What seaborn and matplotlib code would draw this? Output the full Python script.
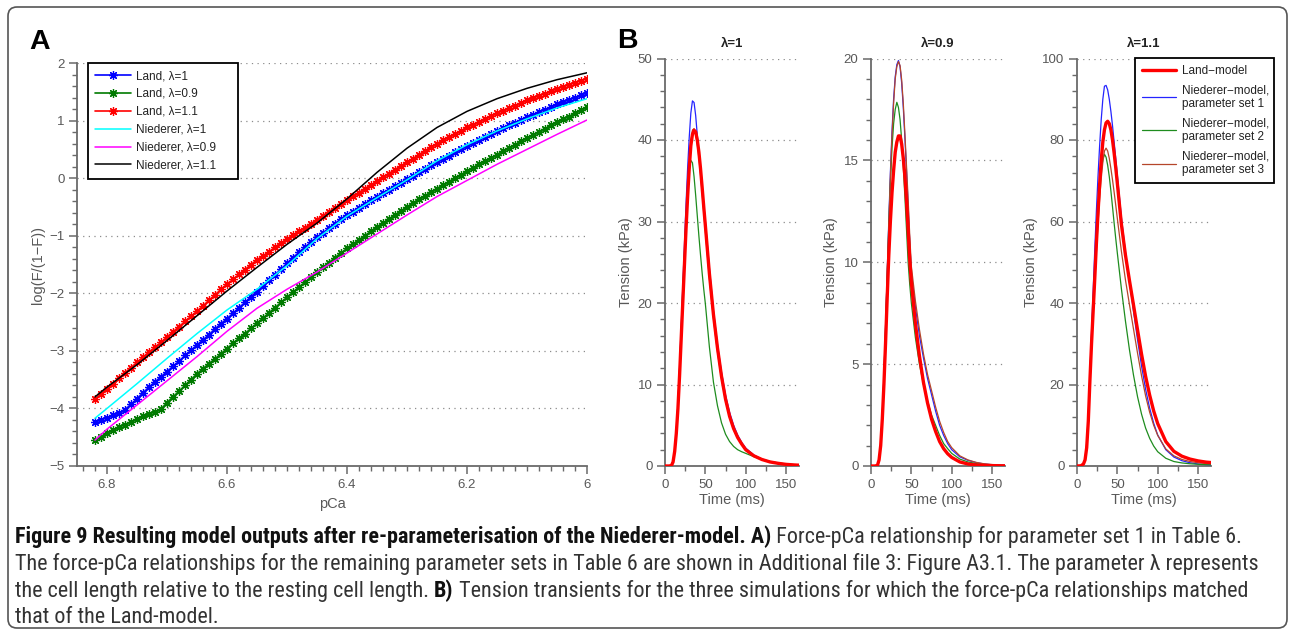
import os
import numpy as np
import pandas as pd
import matplotlib
matplotlib.use("Agg")
import matplotlib.pyplot as plt
import seaborn as sns
from matplotlib import font_manager as fm
from matplotlib.ticker import MultipleLocator, FixedLocator
from matplotlib.patches import FancyBboxPatch
from matplotlib.transforms import IdentityTransform

# ---------------- data: panel A (force-pCa) ----------------
pca_land = [6.82, 6.81, 6.80, 6.79, 6.78, 6.77, 6.76, 6.75, 6.74, 6.73,
            6.72, 6.71, 6.70, 6.69, 6.68, 6.67, 6.66, 6.65, 6.64, 6.63,
            6.62, 6.61, 6.60, 6.59, 6.58, 6.57, 6.56, 6.55, 6.54, 6.53,
            6.52, 6.51, 6.50, 6.49, 6.48, 6.47, 6.46, 6.45, 6.44, 6.43,
            6.42, 6.41, 6.40, 6.39, 6.38, 6.37, 6.36, 6.35, 6.34, 6.33,
            6.32, 6.31, 6.30, 6.29, 6.28, 6.27, 6.26, 6.25, 6.24, 6.23,
            6.22, 6.21, 6.20, 6.19, 6.18, 6.17, 6.16, 6.15, 6.14, 6.13,
            6.12, 6.11, 6.10, 6.09, 6.08, 6.07, 6.06, 6.05, 6.04, 6.03,
            6.02, 6.01, 6.00]
land_l1 = [-4.24, -4.20, -4.16, -4.12, -4.08, -4.02, -3.93, -3.83, -3.73, -3.63,
           -3.54, -3.45, -3.36, -3.27, -3.18, -3.08, -2.99, -2.90, -2.81, -2.72,
           -2.62, -2.53, -2.44, -2.35, -2.25, -2.16, -2.06, -1.97, -1.87, -1.77,
           -1.68, -1.58, -1.48, -1.38, -1.29, -1.20, -1.11, -1.03, -0.95, -0.87,
           -0.79, -0.71, -0.64, -0.58, -0.51, -0.45, -0.38, -0.32, -0.26, -0.20,
           -0.14, -0.08, -0.02, 0.04, 0.10, 0.16, 0.22, 0.28, 0.34, 0.39,
           0.45, 0.50, 0.56, 0.61, 0.66, 0.72, 0.77, 0.82, 0.87, 0.92,
           0.96, 1.01, 1.06, 1.10, 1.15, 1.19, 1.24, 1.28, 1.32, 1.36,
           1.40, 1.44, 1.48]
land_l09 = [-4.55, -4.49, -4.43, -4.38, -4.33, -4.28, -4.23, -4.18, -4.14, -4.10,
            -4.06, -4.01, -3.90, -3.80, -3.70, -3.60, -3.50, -3.40, -3.31, -3.22,
            -3.14, -3.05, -2.96, -2.87, -2.78, -2.70, -2.61, -2.52, -2.43, -2.34,
            -2.25, -2.16, -2.07, -1.98, -1.89, -1.81, -1.72, -1.63, -1.55, -1.47,
            -1.38, -1.30, -1.22, -1.15, -1.07, -1.00, -0.92, -0.85, -0.78, -0.71,
            -0.64, -0.57, -0.50, -0.44, -0.37, -0.31, -0.24, -0.18, -0.12, -0.06,
            0.00, 0.06, 0.12, 0.18, 0.24, 0.29, 0.35, 0.41, 0.47, 0.53,
            0.58, 0.64, 0.70, 0.75, 0.81, 0.86, 0.92, 0.97, 1.02, 1.07,
            1.13, 1.18, 1.23]
land_l11 = [-3.84, -3.75, -3.66, -3.57, -3.47, -3.38, -3.29, -3.20, -3.11, -3.02,
            -2.94, -2.85, -2.76, -2.67, -2.58, -2.49, -2.40, -2.31, -2.22, -2.12,
            -2.03, -1.93, -1.84, -1.76, -1.67, -1.59, -1.50, -1.42, -1.35, -1.28,
            -1.20, -1.13, -1.06, -0.99, -0.92, -0.86, -0.79, -0.72, -0.65, -0.58,
            -0.52, -0.45, -0.38, -0.31, -0.25, -0.18, -0.12, -0.05, 0.02, 0.08,
            0.15, 0.21, 0.28, 0.34, 0.41, 0.47, 0.54, 0.60, 0.66, 0.71,
            0.77, 0.82, 0.88, 0.93, 0.98, 1.03, 1.08, 1.13, 1.17, 1.22,
            1.26, 1.31, 1.35, 1.39, 1.43, 1.47, 1.51, 1.55, 1.59, 1.62,
            1.66, 1.69, 1.73]
pca_nied = [6.82, 6.80, 6.75, 6.70, 6.65, 6.60, 6.55, 6.50, 6.45, 6.40,
            6.35, 6.30, 6.25, 6.20, 6.15, 6.10, 6.05, 6.00]
nied_l1 = [-4.17, -4.00, -3.57, -3.13, -2.70, -2.29, -1.93, -1.52, -1.05, -0.66,
           -0.34, -0.03, 0.30, 0.58, 0.82, 1.03, 1.22, 1.38]
nied_l09 = [-4.55, -4.36, -3.94, -3.52, -3.10, -2.66, -2.26, -1.93, -1.63, -1.30,
            -0.97, -0.64, -0.32, -0.04, 0.24, 0.50, 0.76, 1.01]
nied_l11 = [-3.80, -3.63, -3.24, -2.82, -2.39, -1.96, -1.55, -1.15, -0.78, -0.36,
            0.10, 0.52, 0.88, 1.16, 1.38, 1.56, 1.71, 1.83]

labels_A = ["Land, λ=1", "Land, λ=0.9", "Land, λ=1.1",
            "Niederer, λ=1", "Niederer, λ=0.9", "Niederer, λ=1.1"]
xticks_A = [6.8, 6.6, 6.4, 6.2, 6.0]
xticklabels_A = ["6.8", "6.6", "6.4", "6.2", "6"]
yticks_A = [-5, -4, -3, -2, -1, 0, 1, 2]

# ---------------- data: panel B (tension transients) ----------------
time_ms = [0, 5, 8, 10, 12, 14, 16, 18, 20, 22, 24, 26, 28, 30, 32, 34, 36, 38, 40, 42,
           44, 46, 48, 50, 55, 60, 65, 70, 75, 80, 85, 90, 95, 100, 110, 120, 130, 140,
           150, 160, 166]
# lambda = 1
ten_l1_land = [0, 0, 0.05, 0.5, 1.8, 4.0, 7.0, 11.0, 15.5, 20.0, 24.5, 29.0, 33.0, 36.5,
               39.3, 40.7, 41.2, 41.0, 40.0, 38.5, 36.5, 34.2, 31.8, 29.5, 23.6, 18.6, 14.5,
               11.0, 8.2, 6.1, 4.6, 3.5, 2.7, 2.0, 1.25, 0.8, 0.5, 0.33, 0.2, 0.13, 0.1]
ten_l1_set1 = [0, 0, 0.05, 0.5, 1.9, 4.3, 7.6, 12.0, 17.0, 22.0, 27.0, 32.0, 36.5, 40.3,
               43.3, 44.8, 44.6, 43.0, 40.6, 38.3, 36.2, 34.2, 32.1, 30.0, 24.3, 19.1, 14.9,
               11.5, 8.7, 6.6, 5.0, 3.8, 2.9, 2.2, 1.35, 0.85, 0.55, 0.35, 0.22, 0.14, 0.1]
ten_l1_set2 = [0, 0, 0.05, 0.5, 1.9, 4.3, 7.6, 11.8, 16.5, 21.5, 26.0, 30.2, 33.8, 36.3,
               37.5, 37.2, 35.5, 33.2, 30.7, 28.2, 25.9, 23.7, 21.7, 19.9, 14.6, 10.3, 7.4,
               5.3, 3.9, 3.0, 2.4, 2.0, 1.75, 1.55, 1.15, 0.8, 0.55, 0.38, 0.25, 0.17, 0.13]
ten_l1_set3 = [0, 0, 0.05, 0.5, 1.9, 4.2, 7.4, 11.6, 16.2, 20.8, 25.4, 29.8, 33.8, 37.2,
               39.8, 41.2, 41.4, 40.7, 39.5, 37.8, 35.8, 33.5, 31.1, 28.8, 23.0, 18.1, 14.0,
               10.7, 8.0, 6.0, 4.5, 3.45, 2.65, 2.0, 1.25, 0.8, 0.5, 0.33, 0.2, 0.13, 0.1]
# lambda = 0.9
ten_l09_land = [0, 0, 0.03, 0.3, 1.0, 2.3, 4.0, 6.0, 8.2, 10.3, 12.0, 13.4, 14.5, 15.4,
                15.9, 16.2, 16.2, 15.8, 15.1, 14.2, 13.0, 11.6, 10.1, 9.0, 7.0, 5.4, 4.1,
                3.1, 2.3, 1.7, 1.2, 0.85, 0.6, 0.42, 0.2, 0.1, 0.05, 0.03, 0.02, 0.01, 0.01]
ten_l09_set1 = [0, 0, 0.03, 0.3, 1.1, 2.5, 4.4, 6.8, 9.4, 12.0, 14.4, 16.4, 18.0, 19.1,
                19.7, 19.9, 19.6, 18.8, 17.6, 16.1, 14.5, 12.8, 11.0, 9.5, 7.8, 6.4, 5.3,
                4.3, 3.5, 2.7, 2.0, 1.5, 1.1, 0.8, 0.45, 0.28, 0.17, 0.1, 0.06, 0.04, 0.03]
ten_l09_set2 = [0, 0, 0.03, 0.3, 1.1, 2.5, 4.4, 6.8, 9.3, 11.8, 13.9, 15.6, 16.8, 17.5,
                17.85, 17.6, 17.0, 16.0, 14.7, 13.2, 11.6, 10.0, 8.9, 8.0, 6.3, 5.0, 4.0,
                3.2, 2.5, 2.0, 1.5, 1.1, 0.85, 0.62, 0.34, 0.2, 0.12, 0.07, 0.04, 0.03, 0.02]
ten_l09_set3 = [0, 0, 0.03, 0.3, 1.0, 2.4, 4.2, 6.6, 9.2, 11.8, 14.2, 16.2, 17.8, 19.0,
                19.6, 19.85, 19.65, 18.95, 17.8, 16.3, 14.7, 13.1, 11.3, 9.8, 8.1, 6.7, 5.5,
                4.5, 3.7, 2.9, 2.2, 1.65, 1.2, 0.9, 0.5, 0.3, 0.18, 0.11, 0.07, 0.04, 0.03]
# lambda = 1.1
ten_l11_land = [0, 0.05, 0.5, 1.5, 4.5, 11.0, 21.0, 30.0, 38.0, 46.0, 54.5, 62.0, 69.0, 75.0,
                79.5, 82.5, 84.2, 84.6, 84.0, 82.5, 80.0, 76.8, 73.2, 69.3, 59.3, 51.8, 45.5,
                39.5, 33.4, 27.4, 22.0, 17.4, 13.5, 10.4, 6.0, 3.6, 2.4, 1.7, 1.25, 0.95, 0.85]
ten_l11_set1 = [0, 0.05, 0.5, 1.6, 5.0, 12.0, 22.5, 33.0, 43.0, 53.0, 62.5, 71.0, 78.5, 85.0,
                90.0, 93.2, 93.4, 92.3, 90.0, 87.0, 83.5, 79.5, 75.5, 71.3, 61.0, 52.5, 45.3,
                38.0, 31.0, 24.5, 18.8, 14.2, 10.5, 7.6, 4.0, 2.2, 1.3, 0.8, 0.5, 0.35, 0.3]
ten_l11_set2 = [0, 0.05, 0.6, 1.8, 5.5, 12.5, 22.5, 32.0, 40.5, 48.5, 56.0, 62.5, 68.0, 72.3,
                75.2, 76.5, 75.8, 73.8, 71.0, 67.5, 63.6, 59.6, 55.8, 52.2, 43.5, 35.6, 28.5,
                22.3, 17.0, 12.7, 9.3, 6.8, 4.9, 3.5, 1.9, 1.1, 0.75, 0.55, 0.42, 0.33, 0.3]
ten_l11_set3 = [0, 0.05, 0.5, 1.5, 4.5, 10.5, 20.0, 29.0, 37.0, 45.0, 52.5, 59.5, 65.5, 70.5,
                74.5, 77.3, 78.0, 77.3, 75.5, 73.0, 70.2, 67.2, 64.0, 60.7, 52.7, 45.7, 39.6,
                33.6, 27.7, 22.1, 17.2, 13.2, 10.0, 7.5, 4.2, 2.5, 1.6, 1.1, 0.8, 0.6, 0.55]

titles_B = ["λ=1", "λ=0.9", "λ=1.1"]
labels_B = ["Land−model", "Niederer−model,\nparameter set 1",
            "Niederer−model,\nparameter set 2", "Niederer−model,\nparameter set 3"]
ymax_B = [50, 20, 100]
ystep_B = [10, 5, 20]
yminor_B = [2, 1, 4]

# ---------------- styling ----------------
sns.set_theme(style="white")
plt.rcParams["font.family"] = ["Liberation Sans", "DejaVu Sans"]
plt.rcParams["axes.unicode_minus"] = True

W, H = 1292, 634
fig = plt.figure(figsize=(W / 100, H / 100), dpi=100, facecolor="white")

AXC = "#6a6a6a"
TXC = "#585858"
GRIDC = "#8c8c8c"


def ax_rect(l, t, r, b):
    return [l / W, 1 - b / H, (r - l) / W, (b - t) / H]


def style_axes(ax):
    ax.set_facecolor("white")
    for s in ["top", "right"]:
        ax.spines[s].set_visible(False)
    for s in ["left", "bottom"]:
        ax.spines[s].set_color(AXC)
        ax.spines[s].set_linewidth(1.3)
    ax.tick_params(which="both", direction="out", colors=AXC, labelcolor=TXC,
                   labelsize=9.5, left=True, bottom=True)
    ax.tick_params(which="major", length=6, width=1.1, pad=3)
    ax.tick_params(which="minor", length=3.5, width=1.0)
    ax.grid(False)
    ax.yaxis.grid(True, which="major", linestyle=(0, (1, 3.5)), color=GRIDC, lw=0.9)
    ax.set_axisbelow(True)


# ---------------- panel A ----------------
axA = fig.add_axes(ax_rect(77, 63, 587, 466))
star = (8, 2, 0)
landA = [(land_l1, "#0000ff", labels_A[0]), (land_l09, "#007a00", labels_A[1]),
         (land_l11, "#ff0000", labels_A[2])]
for yv, c, lab in landA:
    sns.lineplot(x=pca_land, y=yv, ax=axA, color=c, lw=1.2, marker=star, markersize=6.3,
                 markeredgewidth=0.9, markeredgecolor=c, label=lab, estimator=None,
                 sort=False)
niedA = [(nied_l1, "#00ffff", labels_A[3]), (nied_l09, "#ff00ff", labels_A[4]),
         (nied_l11, "#000000", labels_A[5])]
for yv, c, lab in niedA:
    sns.lineplot(x=pca_nied, y=yv, ax=axA, color=c, lw=1.1, label=lab, estimator=None,
                 sort=False)

axA.set_xlim(6.85, 6.0)
axA.set_ylim(-5, 2)
style_axes(axA)
axA.xaxis.set_major_locator(FixedLocator(xticks_A))
axA.set_xticklabels(xticklabels_A)
axA.xaxis.set_minor_locator(MultipleLocator(0.02))
axA.yaxis.set_major_locator(FixedLocator(yticks_A))
axA.yaxis.set_minor_locator(MultipleLocator(0.2))
axA.set_xlabel("pCa", fontsize=10.5, color=TXC)
axA.set_ylabel("log(F/(1−F))", fontsize=10.5, color=TXC)
axA.xaxis.set_label_coords(0.5, -0.076)
axA.yaxis.set_label_coords(-0.062, 0.5)

legA = axA.legend(loc="upper left", bbox_to_anchor=(0.0216, 0.714, 0.294, 0.286),
                  mode="expand", borderaxespad=0, frameon=True, fancybox=False,
                  edgecolor="black", fontsize=8.5, handlelength=3.0, labelspacing=0.5,
                  borderpad=0.6, handletextpad=0.5, numpoints=1, framealpha=1)
legA.get_frame().set_linewidth(1.3)
for t in legA.get_texts():
    t.set_color("#222222")

# ---------------- panel B ----------------
lefts = [665, 871, 1077]
series_B = [
    (ten_l1_land, ten_l1_set1, ten_l1_set2, ten_l1_set3),
    (ten_l09_land, ten_l09_set1, ten_l09_set2, ten_l09_set3),
    (ten_l11_land, ten_l11_set1, ten_l11_set2, ten_l11_set3),
]
col_land, col_s1, col_s2, col_s3 = "#ff0000", "#2424ff", "#1e8c1e", "#b5462a"
ylab_x = [-0.24, -0.246, -0.29]
axesB = []
for i, l in enumerate(lefts):
    ax = fig.add_axes(ax_rect(l, 58.5, l + 134, 466))
    axesB.append(ax)
    land, s1, s2, s3 = series_B[i]
    sns.lineplot(x=time_ms, y=s1, ax=ax, color=col_s1, lw=0.9, label=labels_B[1],
                 estimator=None, zorder=3)
    sns.lineplot(x=time_ms, y=s2, ax=ax, color=col_s2, lw=0.9, label=labels_B[2],
                 estimator=None, zorder=3)
    sns.lineplot(x=time_ms, y=s3, ax=ax, color=col_s3, lw=0.9, label=labels_B[3],
                 estimator=None, zorder=3)
    sns.lineplot(x=time_ms, y=land, ax=ax, color=col_land, lw=2.4, label=labels_B[0],
                 estimator=None, zorder=4)
    ax.set_xlim(0, 166)
    ax.set_ylim(0, ymax_B[i])
    style_axes(ax)
    ax.xaxis.set_major_locator(FixedLocator([0, 50, 100, 150]))
    ax.xaxis.set_minor_locator(MultipleLocator(25))
    ax.yaxis.set_major_locator(MultipleLocator(ystep_B[i]))
    ax.yaxis.set_minor_locator(MultipleLocator(yminor_B[i]))
    ax.set_xlabel("Time (ms)", fontsize=10.5, color=TXC)
    ax.set_ylabel("Tension (kPa)", fontsize=10.5, color=TXC)
    ax.xaxis.set_label_coords(0.5, -0.066)
    ax.yaxis.set_label_coords(ylab_x[i], 0.5)
    ax.set_title(titles_B[i], fontsize=9.5, fontweight="bold", color="#222222", pad=8)
    if i < 2:
        lg = ax.get_legend()
        if lg is not None:
            lg.remove()
    else:
        hs, ls = ax.get_legend_handles_labels()
        order = [ls.index(lab) for lab in labels_B]
        lg = ax.legend([hs[k] for k in order], [ls[k] for k in order], loc="upper left",
                       bbox_to_anchor=(0.433, 0.697, 1.037, 0.305), mode="expand",
                       borderaxespad=0, frameon=True, fancybox=False, edgecolor="black",
                       fontsize=8.5, handlelength=2.9, labelspacing=0.62, borderpad=0.6,
                       handletextpad=0.5, framealpha=1)
        lg.get_frame().set_linewidth(1.3)
        for t in lg.get_texts():
            t.set_color("#222222")
        lg.set_zorder(10)

# ---------------- panel letters ----------------
fig.text(29 / W, 1 - 49 / H, "A", fontsize=20.5, fontweight="bold", color="black",
         va="baseline", ha="left")
fig.text(617 / W, 1 - 47.5 / H, "B", fontsize=20.5, fontweight="bold", color="black",
         va="baseline", ha="left")

# ---------------- caption ----------------
def pick_condensed():
    cands = [("Liberation Sans Narrow", "normal"), ("Roboto Condensed", "normal"),
             ("Open Sans Condensed", "normal"), ("Noto Sans", "condensed"),
             ("DejaVu Sans", "condensed"), ("Open Sans", "condensed"),
             ("Roboto", "condensed")]
    for fam, st in cands:
        try:
            p = fm.findfont(fm.FontProperties(family=fam, stretch=st),
                            fallback_to_default=False)
        except Exception:
            continue
        name = os.path.basename(p).lower()
        if st == "normal" or "condensed" in name or "narrow" in name:
            return fam, st
    return "Liberation Sans", "normal"


cap_fam, cap_stretch = pick_condensed()
cap_family = [cap_fam, "DejaVu Sans"]
renderer = fig.canvas.get_renderer()
CAP_N = "#333333"
CAP_B = "#111111"

cap_lines = [
    [("Figure 9 Resulting model outputs after re-parameterisation of the Niederer-model. A)", "bold"),
     (" Force-pCa relationship for parameter set 1 in Table 6.", "normal")],
    [("The force-pCa relationships for the remaining parameter sets in Table 6 are shown in "
      "Additional file 3: Figure A3.1. The parameter λ represents", "normal")],
    [("the cell length relative to the resting cell length. ", "normal"), ("B)", "bold"),
     (" Tension transients for the three simulations for which the force-pCa relationships matched", "normal")],
    [("that of the Land-model.", "normal")],
]
cap_targets = [1263.0, 1240.0, 1233.0]
cap_baselines = [543, 570, 597, 623]


def run_width(txt, weight, size):
    t1 = fig.text(0, 0, txt + "|", fontsize=size, fontweight=weight, family=cap_family,
                  fontstretch=cap_stretch)
    t2 = fig.text(0, 0, "|", fontsize=size, fontweight=weight, family=cap_family,
                  fontstretch=cap_stretch)
    w = t1.get_window_extent(renderer).width - t2.get_window_extent(renderer).width
    t1.remove()
    t2.remove()
    return w


base = 12.0
ratios = []
for runs, tgt in zip(cap_lines[:3], cap_targets):
    wsum = sum(run_width(t, wt, base) for t, wt in runs)
    ratios.append(tgt / wsum)
cap_size = base * min(ratios)

for runs, yb in zip(cap_lines, cap_baselines):
    x = 15.0
    for txt, wt in runs:
        fig.text(x / W, 1 - yb / H, txt, fontsize=cap_size, fontweight=wt,
                 family=cap_family, fontstretch=cap_stretch,
                 color=CAP_B if wt == "bold" else CAP_N, va="baseline", ha="left")
        x += run_width(txt, wt, cap_size)

# ---------------- outer frame ----------------
frame = FancyBboxPatch((8, H - 628), 1279, 621, boxstyle="round,pad=0,rounding_size=9",
                       transform=IdentityTransform(), fill=False, ec="#555555", lw=1.2)
fig.add_artist(frame)

fig.savefig("out.png", dpi=100, facecolor="white")
